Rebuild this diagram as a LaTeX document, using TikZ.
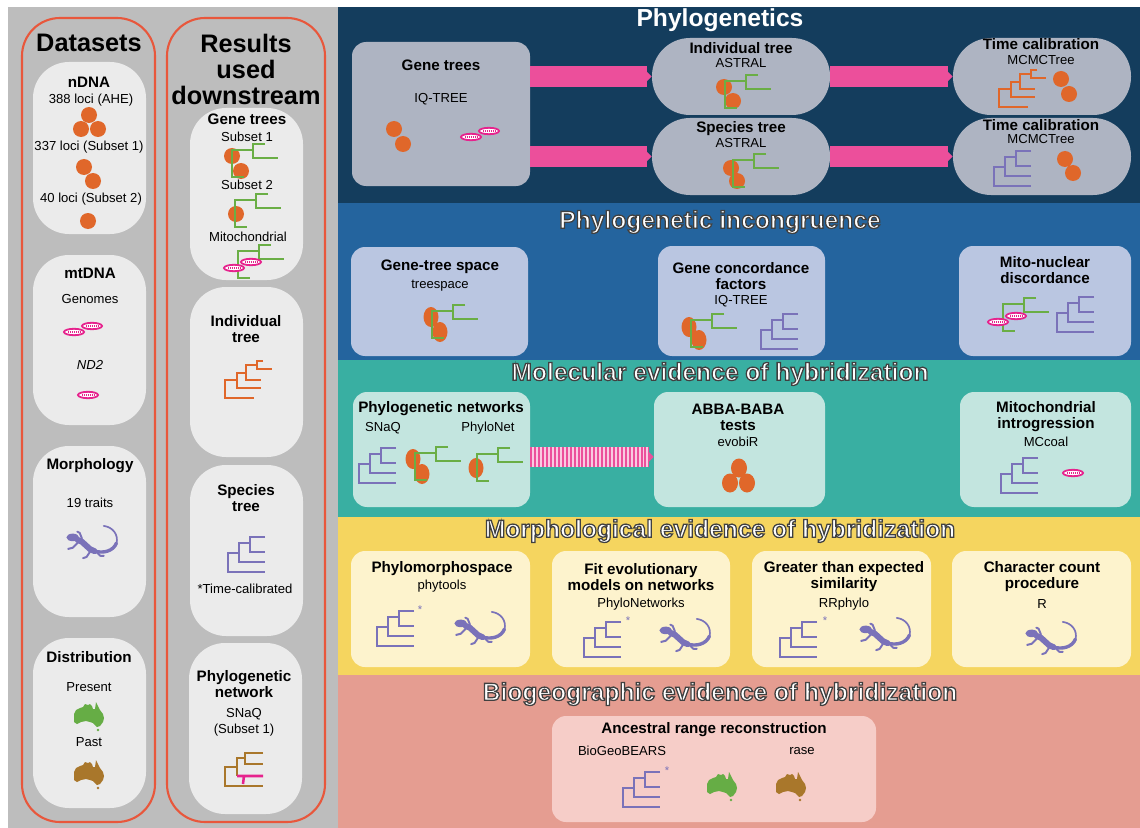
\documentclass[tikz,border=0pt]{standalone}
\usepackage{fontspec}
\setmainfont{Liberation Sans}
\usetikzlibrary{arrows.meta, fit}
\definecolor{sidegray}{HTML}{BDBDBD}
\definecolor{panelgray}{HTML}{EBEBEB}
\definecolor{rim}{HTML}{E8573C}
\definecolor{navyband}{HTML}{143D5D}
\definecolor{blueband}{HTML}{24649E}
\definecolor{tealband}{HTML}{39AFA2}
\definecolor{yellowband}{HTML}{F5D55F}
\definecolor{salmonband}{HTML}{E59D91}
\definecolor{navybox}{HTML}{AEB4C2}
\definecolor{bluebox}{HTML}{BAC6E1}
\definecolor{tealbox}{HTML}{C3E5DF}
\definecolor{yellowbox}{HTML}{FDF3CD}
\definecolor{salmonbox}{HTML}{F6CDC8}
\definecolor{nucorange}{HTML}{E0672A}
\definecolor{genegreen}{HTML}{6AAE45}
\definecolor{sppurple}{HTML}{7A72B9}
\definecolor{mitopink}{HTML}{E6238D}
\definecolor{flowpink}{HTML}{EC4F9B}
\definecolor{ausgreen}{HTML}{66AD45}
\definecolor{ausbrown}{HTML}{A9772B}
% white letters with a dark rim (fill+stroke text mode)
\newcommand\outlined[1]{\special{pdf:literal direct 2 Tr 0.9 w 0.25 0.25 0.25 RG}#1\special{pdf:literal direct 0 Tr}}
\tikzset{
  column/.style={rectangle, rounded corners=0.95cm, draw=rim, line width=1.5pt, inner sep=0pt},
  panel/.style={rectangle, rounded corners=0.9cm, fill=panelgray, inner sep=0pt},
  tile/.style={rectangle, rounded corners=0.35cm, inner sep=0pt},
  pill/.style={rectangle, rounded corners=0.95cm, fill=navybox, inner sep=0pt},
  head/.style={font=\bfseries\fontsize{10.8}{11.4}\selectfont, align=center, inner sep=0pt},
  plain/.style={font=\fontsize{9.3}{11.4}\selectfont, align=center, inner sep=0pt},
  coltitle/.style={font=\bfseries\fontsize{18}{18.5}\selectfont, align=center, inner sep=0pt},
  bandtitle/.style={font=\bfseries\fontsize{17.5}{18}\selectfont, text=white, inner sep=0pt},
  astnode/.style={font=\fontsize{8}{8}\selectfont, text=sppurple, inner sep=0pt},
  treeline/.style={line width=1.8pt},
  flow/.style={draw=flowpink, line width=15.6pt, -{Triangle[length=3.6pt, width=7pt]}},
  stripebase/.style={draw=flowpink!30, line width=14pt, shorten >=3.6pt},
  stripeflow/.style={draw=flowpink, line width=14pt, dash pattern=on 1.4pt off 1.4pt,
                     -{Triangle[length=3.6pt, width=7pt]}},
  ladder/.pic={\draw[treeline, #1] (37,0) -- (22,0) -- (22,15) -- (37,15)
      (22,6) -- (11,6) -- (11,25) -- (37,25) (11,16) -- (0,16) -- (0,35) -- (37,35);},
  genetree/.pic={\draw[treeline, genegreen] (33,0) -- (21,0) -- (21,14) -- (46,14)
      (21,6) -- (0,6) -- (0,33) -- (12,33);},
  stairtree/.pic={\draw[treeline, nucorange] (38,0) -- (32,0) -- (32,8) -- (47,8)
      (32,4) -- (21,4) -- (21,19) -- (36,19) (21,12) -- (12,12) -- (12,27) -- (36,27)
      (12,19) -- (0,19) -- (0,37) -- (29,37);},
  network/.pic={\draw[treeline, ausbrown] (38,1) -- (20,1) -- (20,12) -- (38,12)
      (20,6) -- (12,6) -- (12,24) (12,15) -- (0,15) -- (0,34) -- (38,34);
    \draw[treeline, mitopink] (12,24) -- (38,24) (19,24) -- (18,32);},
  mito/.pic={\filldraw[fill=white, draw=mitopink, line width=1.3pt] (0,0) ellipse (10 and 3.2);
    \draw[mitopink, line width=0.9pt, dash pattern=on 0.7pt off 0.7pt] (-6,0) -- (6,0);},
  lizard/.pic={\begin{scope}[scale=1.15]
    \fill[sppurple] (-15,-4) ellipse (5.5 and 3.3);
    \draw[sppurple, line width=4.2pt, line cap=round] (-11,-2) .. controls (-5,-1) and (-2,7) .. (4,8);
    \draw[sppurple, line width=2.4pt, line cap=round] (4,8) .. controls (12,10) and (20,8) .. (23,1);
    \draw[sppurple, line width=1.2pt, line cap=round] (23,1) .. controls (25,-6) and (20,-13) .. (12,-14);
    \draw[sppurple, line width=1.4pt, line cap=round, line join=round]
      (-9,-1) -- (-15,5) -- (-19,6) (-7,-3) -- (-9,-8) -- (-11,-9)
      (1,7) -- (-3,13) -- (-6,14) (5,8) -- (9,12) -- (12,12);
    \end{scope}},
  aus/.pic={\fill[#1] (-15,-1) -- (-13,-5) -- (-9,-7) -- (-6,-8) -- (-4,-11) -- (-1,-10)
      -- (1,-11) -- (3,-9) -- (4,-6) -- (6,-6) -- (7,-13) -- (9,-9) -- (11,-5) -- (14,-1)
      -- (15,3) -- (14,7) -- (11,11) -- (8,12) -- (6,10) -- (4,8) -- (1,7) -- (-3,6)
      -- (-8,7) -- (-12,9) -- (-15,7) -- (-15,3) -- cycle;
    \fill[#1] (9,15) circle (1.4);},
}

\begin{document}
\begin{tikzpicture}[x=0.025cm, y=-0.025cm]
  \useasboundingbox (0,0) rectangle (1140,828);
  \fill[white] (0,0) rectangle (1140,828);
  \fill[sidegray] (8,7) rectangle (338,828);
  \fill[navyband] (338,7) rectangle (1140,203);
  \fill[blueband] (338,203) rectangle (1140,360);
  \fill[tealband] (338,360) rectangle (1140,517);
  \fill[yellowband] (338,517) rectangle (1140,675);
  \fill[salmonband] (338,675) rectangle (1140,828);

  % left: datasets and downstream results
  \node[column, fit={(22,18) (155,822)}] (datacol) {};
  \node[column, fit={(167,18) (325,822)}] (rescol) {};
  \node[coltitle] (datatitle) at (89,43) {Datasets};
  \node[coltitle] (restitle) at (246,69) {Results\\used\\downstream};

  \node[panel, fit={(33,62) (146,234)}] (ndna) {};
  \node[panel, fit={(33,255) (146,425)}] (mtdna) {};
  \node[panel, fit={(33,446) (146,617)}] (morpho) {};
  \node[panel, fit={(33,638) (146,808)}] (distrib) {};
  \node[panel, fit={(190,108) (303,280)}] (genes) {};
  \node[panel, fit={(190,287) (303,457)}] (indtree) {};
  \node[panel, fit={(190,465) (303,636)}] (sptree) {};
  \node[panel, fit={(189,643) (302,814)}] (netres) {};

  \node[head] (ndnahead) at (89,82) {nDNA};
  \node[plain] (ahe) at (91,100) {388 loci (AHE)};
  \node[plain] (subone) at (89,147) {337 loci (Subset 1)};
  \node[plain] (subtwo) at (91,199) {40 loci (Subset 2)};
  \foreach \p in {(89,115),(81,129),(98,129),(84,167),(93,181),(88,221)}
    \fill[nucorange] \p circle (8);

  \node[head] (mthead) at (90,273) {mtDNA};
  \node[plain] (genomes) at (90,299) {Genomes};
  \pic at (74,332) {mito};
  \pic at (92,326) {mito};
  \node[plain] (nd2) at (90,365) {\itshape ND2};
  \pic at (88,395) {mito};

  \node[head] (morphhead) at (90,466) {Morphology};
  \node[plain] (traits) at (90,503) {19 traits};
  \pic at (90,542) {lizard};

  \node[head] (disthead) at (89,657) {Distribution};
  \node[plain] (present) at (89,687) {Present};
  \pic at (89,715) {aus=ausgreen};
  \node[plain] (past) at (89,742) {Past};
  \pic at (89,773) {aus=ausbrown};

  \node[head] (genehead) at (247,119) {Gene trees};
  \node[plain] (resone) at (247,137) {Subset 1};
  \fill[nucorange] (232,156) circle (8) (241,171) circle (8);
  \pic at (232,144) {genetree};
  \node[plain] (restwo) at (247,185) {Subset 2};
  \fill[nucorange] (236,214) circle (8);
  \pic at (235,194) {genetree};
  \node[plain] (resmito) at (248,237) {Mitochondrial};
  \pic at (238,245) {genetree};
  \pic at (234,268) {mito};
  \pic at (251,262) {mito};

  \node[head] (indhead) at (246,329) {Individual\\tree};
  \pic at (225,361) {stairtree};
  \node[head] (sphead) at (246,498) {Species\\tree};
  \pic at (228,537) {ladder=sppurple};
  \node[plain] (timecal) at (245,589) {*Time-calibrated};
  \node[head] (nethead) at (244,684.5) {Phylogenetic\\network};
  \node[plain] (snaqone) at (244,722) {SNaQ\\(Subset 1)};
  \pic at (225,752) {network};

  % phylogenetics
  \node[bandtitle] (phylotitle) at (720,20) {Phylogenetics};
  \node[tile, fill=navybox, fit={(352,42) (530,186)}] (genebox) {};
  \node[pill, fit={(652,38) (830,115)}] (astind) {};
  \node[pill, fit={(652,118) (830,195)}] (astsp) {};
  \node[pill, fit={(953,38) (1131,115)}] (calind) {};
  \node[pill, fit={(953,118) (1131,195)}] (calsp) {};
  \draw[flow] (genebox.east |- astind.west) -- (astind.west);
  \draw[flow] (genebox.east |- astsp.west) -- (astsp.west);
  \draw[flow] (astind.east) -- (calind.west);
  \draw[flow] (astsp.east) -- (calsp.west);

  \node[head] (gthead) at (441,65) {Gene trees};
  \node[plain] (iqtree) at (441,99) {IQ-TREE};
  \fill[nucorange] (394,129) circle (8) (403,144) circle (8);
  \pic at (471,137) {mito};
  \pic at (489,131) {mito};

  \node[head] (indtitle) at (741,48) {Individual tree};
  \node[plain] (astralone) at (741,63) {ASTRAL};
  \fill[nucorange] (724,87) circle (8) (733,101) circle (8);
  \pic at (725,75) {genetree};
  \node[head] (sptitle) at (741,129) {Species tree};
  \node[plain] (astraltwo) at (741,143) {ASTRAL};
  \fill[nucorange] (731,168) circle (8) (737,181) circle (8);
  \pic at (733,154) {genetree};

  \node[head] (calone) at (1041,44) {Time calibration};
  \node[plain] (mcmcone) at (1041,60) {MCMCTree};
  \pic at (999,70) {stairtree};
  \fill[nucorange] (1061,79) circle (8) (1069,94) circle (8);
  \node[head] (caltwo) at (1041,125) {Time calibration};
  \node[plain] (mcmctwo) at (1041,139) {MCMCTree};
  \pic at (994,151) {ladder=sppurple};
  \fill[nucorange] (1065,159) circle (8) (1073,173) circle (8);

  % incongruence
  \node[bandtitle] (inctitle) at (720,222) {\outlined{Phylogenetic incongruence}};
  \node[tile, fill=bluebox, fit={(351,247) (528,356)}] (gtspace) {};
  \node[tile, fill=bluebox, fit={(658,246) (825,356)}] (gcf) {};
  \node[tile, fill=bluebox, fit={(959,246) (1131,356)}] (mitonuc) {};

  \node[head] (gtshead) at (440,267) {Gene-tree space};
  \node[plain] (treespace) at (440,286) {treespace};
  \fill[nucorange] (431,317) ellipse (7.5 and 10) (440,332) ellipse (7.5 and 10);
  \pic at (432,305) {genetree};
  \node[head] (gcfhead) at (741,276) {Gene concordance\\factors};
  \node[plain] (iqtreetwo) at (741,301) {IQ-TREE};
  \fill[nucorange] (689,327) ellipse (7.5 and 10) (699,340) ellipse (7.5 and 10);
  \pic at (691,314) {genetree};
  \pic at (761,314) {ladder=sppurple};
  \node[head] (mnhead) at (1045,270) {Mito-nuclear\\discordance};
  \pic at (1003,298) {genetree};
  \pic at (998,322) {mito};
  \pic at (1016,316) {mito};
  \pic at (1057,297) {ladder=sppurple};

  % molecular evidence
  \node[bandtitle] (moltitle) at (720,374) {\outlined{Molecular evidence of hybridization}};
  \node[tile, fill=tealbox, fit={(353,392) (530,507)}] (phynet) {};
  \node[tile, fill=tealbox, fit={(654,392) (825,507)}] (abba) {};
  \node[tile, fill=tealbox, fit={(960,392) (1131,507)}] (mitointro) {};
  \draw[stripebase] ([yshift=-5.3pt]phynet.east) -- ([yshift=-5.3pt]abba.west);
  \draw[stripeflow] ([yshift=-5.3pt]phynet.east) -- ([yshift=-5.3pt]abba.west);

  \node[head] (nethd) at (441,409) {Phylogenetic networks};
  \node[plain] (snaq) at (383,428) {SNaQ};
  \node[plain] (phylonet) at (488,428) {PhyloNet};
  \pic at (359,448) {ladder=sppurple};
  \fill[nucorange] (413,459) ellipse (7.5 and 10) (422,474) ellipse (7.5 and 10);
  \pic at (415,447) {genetree};
  \fill[nucorange] (476,468) ellipse (7.5 and 10);
  \pic at (477,448) {genetree};
  \node[head] (abbahead) at (738,417) {ABBA-BABA\\tests};
  \node[plain] (evobir) at (738,442) {evobiR};
  \fill[nucorange] (739,468) ellipse (8 and 9.5) (730,483) ellipse (8 and 9.5)
    (747,483) ellipse (8 and 9.5);
  \node[head] (mihead) at (1046,417) {Mitochondrial\\introgression};
  \node[plain] (mccoal) at (1046,442) {MCcoal};
  \pic at (1001,458) {ladder=sppurple};
  \pic at (1073,473) {mito};

  % morphological evidence
  \node[bandtitle] (morphtitle) at (720,531) {\outlined{Morphological evidence of hybridization}};
  \node[tile, fill=yellowbox, fit={(351,551) (530,667)}] (phmorph) {};
  \node[tile, fill=yellowbox, fit={(552,551) (730,667)}] (fitnet) {};
  \node[tile, fill=yellowbox, fit={(752,551) (931,667)}] (rrbox) {};
  \node[tile, fill=yellowbox, fit={(952,551) (1131,667)}] (charcount) {};

  \node[head] (pmhead) at (442,569) {Phylomorphospace};
  \node[plain] (phytools) at (442,586) {phytools};
  \pic at (377,611) {ladder=sppurple};
  \node[astnode] (astone) at (420,610) {*};
  \pic at (478,628) {lizard};
  \node[head] (fithead) at (641,577) {Fit evolutionary\\models on networks};
  \node[plain] (phylonets) at (641,604) {PhyloNetworks};
  \pic at (584,622) {ladder=sppurple};
  \node[astnode] (asttwo) at (628,621) {*};
  \pic at (683,635) {lizard};
  \node[head] (gtehead) at (844,577) {Greater than expected\\similarity};
  \node[plain] (rrphylo) at (844,604) {RRphylo};
  \pic at (780,622) {ladder=sppurple};
  \node[astnode] (astthree) at (825,621) {*};
  \pic at (883,634) {lizard};
  \node[head] (cchead) at (1042,577) {Character count\\procedure};
  \node[plain] (rlang) at (1042,604) {R};
  \pic at (1049,638) {lizard};

  % biogeographic evidence
  \node[bandtitle] (geotitle) at (720,694) {\outlined{Biogeographic evidence of hybridization}};
  \node[tile, fill=salmonbox, fit={(552,716) (876,822)}] (ancrange) {};
  \node[head] (arhead) at (714,730) {Ancestral range reconstruction};
  \node[plain] (biogeo) at (622,751) {BioGeoBEARS};
  \node[plain] (rase) at (802,751) {rase};
  \pic at (623,772) {ladder=sppurple};
  \node[astnode] (astfour) at (667,771) {*};
  \pic at (722,785) {aus=ausgreen};
  \pic at (791,785) {aus=ausbrown};
\end{tikzpicture}
\end{document}
